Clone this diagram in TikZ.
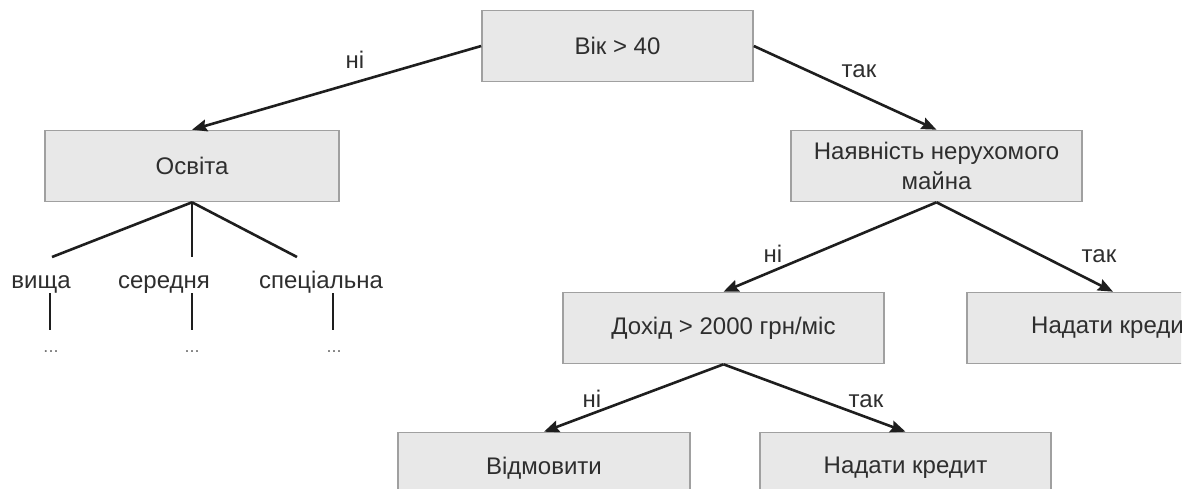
\documentclass[tikz,border=0pt]{standalone}
\usepackage{fontspec}
\setmainfont{Liberation Sans}
\usetikzlibrary{arrows.meta}
\definecolor{boxfill}{HTML}{E8E8E8}
\definecolor{boxline}{HTML}{A0A0A0}
\definecolor{inkline}{HTML}{1E1E1E}
\definecolor{inktext}{HTML}{2E2E2E}
\tikzset{
  decision/.style={draw=boxline, line width=1.6pt, fill=boxfill, text=inktext,
    font=\fontsize{24}{30}\selectfont, align=center, inner sep=0pt,
    minimum height=71pt},
  branch/.style={draw=inkline, line width=2.6pt,
    -{Stealth[length=15pt,width=12pt,inset=2pt]}},
  twig/.style={draw=inkline, line width=2.6pt},
  edgelabel/.style={text=inktext, font=\fontsize{24}{30}\selectfont,
    anchor=base, inner sep=0pt},
  dots/.style={text=black!55, font=\fontsize{18}{20}\selectfont,
    anchor=base, inner sep=0pt}
}
\begin{document}
\begin{tikzpicture}[x=1pt,y=-1pt]
\useasboundingbox (0,0) rectangle (1192,488);
\clip (0,0) rectangle (1181,488);

% decision boxes
\node[decision, minimum width=271pt] (root)   at (617.5,46)  {Вік > 40};
\node[decision, minimum width=294pt] (osvita) at (192,166)   {Освіта};
\node[decision, minimum width=291pt] (mayno)  at (936.5,166) {Наявність нерухомого\\майна};
\node[decision, minimum width=321pt] (dokhid) at (723.5,328) {Дохід > 2000 грн/міс};
\node[decision, minimum width=292pt] (kred)   at (1113,328)  {Надати кредит};
\node[decision, minimum width=292pt] (vidm)   at (544,468)   {Відмовити};
\node[decision, minimum width=291pt] (kredb)  at (905.5,468) {Надати кредит};

% arrows between decisions
\draw[branch] (root.west)   -- (osvita.north);
\draw[branch] (root.east)   -- (mayno.north);
\draw[branch] (mayno.south) -- (dokhid.north);
\draw[branch] (mayno.south) -- (kred.north);
\draw[branch] (dokhid.south) -- (vidm.north);
\draw[branch] (dokhid.south) -- (kredb.north);

% answer labels
\node[edgelabel] (l1) at (355,68)   {ні};
\node[edgelabel] (l2) at (859,77)   {так};
\node[edgelabel] (l3) at (773,262)  {ні};
\node[edgelabel] (l4) at (1099,262) {так};
\node[edgelabel] (l5) at (592,407)  {ні};
\node[edgelabel] (l6) at (866,407)  {так};

% education sub-branches
\coordinate (ea) at (52,257);
\coordinate (eb) at (192,257);
\coordinate (ec) at (297,257);
\draw[twig] (osvita.south) -- (ea);
\draw[twig] (osvita.south) -- (eb);
\draw[twig] (osvita.south) -- (ec);

\node[edgelabel] (va) at (41,288)  {вища};
\node[edgelabel] (vb) at (164,288) {середня};
\node[edgelabel] (vc) at (321,288) {спеціальна};

\coordinate (ta) at (50,293);  \coordinate (ba) at (50,330);
\coordinate (tb) at (192,293); \coordinate (bb) at (192,330);
\coordinate (tc) at (333,293); \coordinate (bc) at (333,330);
\draw[twig] (ta) -- (ba);
\draw[twig] (tb) -- (bb);
\draw[twig] (tc) -- (bc);

\node[dots] (da) at (51,352)  {...};
\node[dots] (db) at (192,352) {...};
\node[dots] (dc) at (334,352) {...};
\end{tikzpicture}
\end{document}
